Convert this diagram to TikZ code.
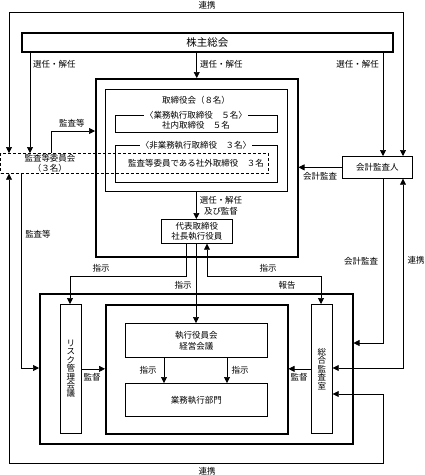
\documentclass[tikz,border=0pt]{standalone}
\usepackage{fontspec}
\setmainfont{Noto Sans CJK JP}
\usetikzlibrary{arrows.meta}
\begin{document}
\begin{tikzpicture}[x=1pt,y=-1pt,
  tbox/.style={draw, line width=0.7pt, inner sep=0pt, font=\fontsize{8.5}{9}\selectfont},
  kbox/.style={draw, line width=1.5pt, inner sep=0pt},
  dbox/.style={draw, dash pattern=on 3pt off 2pt, line width=0.7pt, inner sep=0pt},
  txt/.style={font=\fontsize{8.5}{9}\selectfont, inner sep=0pt},
  ar/.style={-{Triangle[length=6pt,width=6pt]}, line width=0.7pt},
  arb/.style={{Triangle[length=6pt,width=6pt]}-{Triangle[length=6pt,width=6pt]}, line width=0.7pt},
  vt/.style={tbox, align=center, font=\fontsize{8.5}{8.4}\selectfont}
]
\useasboundingbox (0,0) rectangle (425,475);

% boxes
\node[kbox, minimum width=371pt, minimum height=19pt, anchor=north west, font=\fontsize{10.5}{11}\selectfont] (sh) at (21,32) {株主総会};
\node[kbox, minimum width=202pt, minimum height=178pt, anchor=north west] (bo) at (95,78) {};
\node[tbox, minimum width=182pt, minimum height=102pt, anchor=north west] (bd) at (105,89) {};
\node[txt] (bdt) at (196,100) {取締役会（８名）};
\node[tbox, minimum width=162pt, minimum height=17pt, anchor=north west] (ex) at (115,115) {};
\node[txt, fill=white, inner xsep=1pt] (ext) at (196,115) {〈業務執行取締役　５名〉};
\node[txt] (exi) at (196,125) {社内取締役　５名};
\node[tbox, minimum width=162pt, minimum height=37pt, anchor=north west] (ne) at (115,145) {};
\node[txt, fill=white, inner xsep=1pt] (net) at (196,145) {〈非業務執行取締役　３名〉};
\node[dbox, minimum width=267.5pt, minimum height=20pt, anchor=north west] (ac) at (0.5,153) {};
\node[txt] (act1) at (50,158) {監査等委員会};
\node[txt] (act2) at (50,168) {（３名）};
\node[txt] (act3) at (196,163) {監査等委員である社外取締役　３名};
\node[tbox, minimum width=70pt, minimum height=22pt, anchor=north west] (au) at (342,156) {会計監査人};
\node[tbox, align=center, minimum width=71pt, minimum height=24pt, anchor=north west, font=\fontsize{8.5}{10}\selectfont] (ce) at (161,219) {代表取締役\\社長執行役員};

\node[kbox, minimum width=313pt, minimum height=150pt, anchor=north west] (lo) at (39,293) {};
\node[vt, minimum width=21pt, minimum height=129pt, anchor=north west] (rk) at (60,304) {リ\\ス\\ク\\管\\理\\会\\議};
\node[kbox, minimum width=182pt, minimum height=129pt, anchor=north west] (mid) at (105,304) {};
\node[tbox, align=center, minimum width=142pt, minimum height=34pt, anchor=north west, font=\fontsize{8.5}{11}\selectfont] (eo) at (125,323) {執行役員会\\経営会議};
\node[tbox, minimum width=142pt, minimum height=33pt, anchor=north west] (bu) at (125,383) {業務執行部門};
\node[vt, minimum width=21pt, minimum height=129pt, anchor=north west] (ia) at (311,304) {総\\合\\監\\査\\室};

% coordinates
\coordinate (tl) at (9,12);
\coordinate (tr) at (403,12);
\coordinate (s1) at (30,0);
\coordinate (s3) at (383,0);
\coordinate (k1) at (51,131);
\coordinate (h1) at (186,276);
\coordinate (h2) at (70,276);
\coordinate (i1) at (196,0);
\coordinate (j1) at (207,276);
\coordinate (j2) at (321,276);
\coordinate (k2) at (383,343);
\coordinate (l1) at (403,368);
\coordinate (m1) at (383,394);
\coordinate (m2) at (383,463);
\coordinate (m3) at (9,463);
\coordinate (n1) at (21,368);
\coordinate (q1) at (164,0);
\coordinate (q2) at (227,0);

% connectors
\draw[arb] (tl |- ac.north) -- (tl) -- (tr) -- (tr |- au.north);
\node[txt] (lb1) at (207,5) {連携};
\draw[ar] (s1 |- sh.south) -- (s1 |- ac.north);
\draw[ar] (bo.north |- sh.south) -- (bo.north);
\draw[ar] (s3 |- sh.south) -- (s3 |- au.north);
\node[txt, anchor=west] (lb2) at (33,64) {選任・解任};
\node[txt, anchor=west] (lb3) at (200,64) {選任・解任};
\node[txt, anchor=east] (lb4) at (379,64) {選任・解任};
\draw[ar] (k1 |- ac.north) -- (k1) -- (k1 -| bo.west);
\node[txt] (lb5) at (72,123) {監査等};
\draw[ar] (au.west) -- (au.west -| bo.east);
\node[txt] (lb6) at (320,176) {会計監査};
\draw[ar] (bd.south) -- (bd.south |- ce.north);
\node[txt, align=center, font=\fontsize{8.5}{10.5}\selectfont] (lb7) at (221,206) {選任・解任\\及び監督};
\draw[ar] (h1 |- ce.south) -- (h1) -- (h2) -- (h2 |- rk.north);
\node[txt] (lb8) at (101,268) {指示};
\draw[ar] (i1 |- ce.south) -- (i1 |- eo.north);
\node[txt] (lb9) at (183,285) {指示};
\draw[arb] (j1 |- ce.south) -- (j1) -- (j2) -- (j2 |- ia.north);
\node[txt] (lb10) at (268,268) {指示};
\node[txt] (lb11) at (287,285) {報告};
\draw[ar] (k2 |- au.south) -- (k2) -- (k2 -| lo.east);
\node[txt] (lb12) at (361,261) {会計監査};
\draw[arb] (l1 -| ia.east) -- (l1) -- (l1 |- au.south);
\node[txt] (lb13) at (416,260) {連携};
\draw[arb] (m1 -| ia.east) -- (m1) -- (m2) -- (m3) -- (m3 |- ac.south);
\node[txt] (lb14) at (207,471) {連携};
\draw[ar] (n1 |- ac.south) -- (n1) -- (n1 -| lo.west);
\node[txt] (lb15) at (38,234) {監査等};
\draw[ar] (rk.east) -- (rk.east -| mid.west);
\node[txt] (lb16) at (92,377) {監督};
\draw[ar] (ia.west) -- (ia.west -| mid.east);
\node[txt] (lb17) at (299,377) {監督};
\draw[ar] (q1 |- eo.south) -- (q1 |- bu.north);
\draw[ar] (q2 |- eo.south) -- (q2 |- bu.north);
\node[txt] (lb18) at (148,370) {指示};
\node[txt] (lb19) at (240,370) {指示};
\end{tikzpicture}
\end{document}
